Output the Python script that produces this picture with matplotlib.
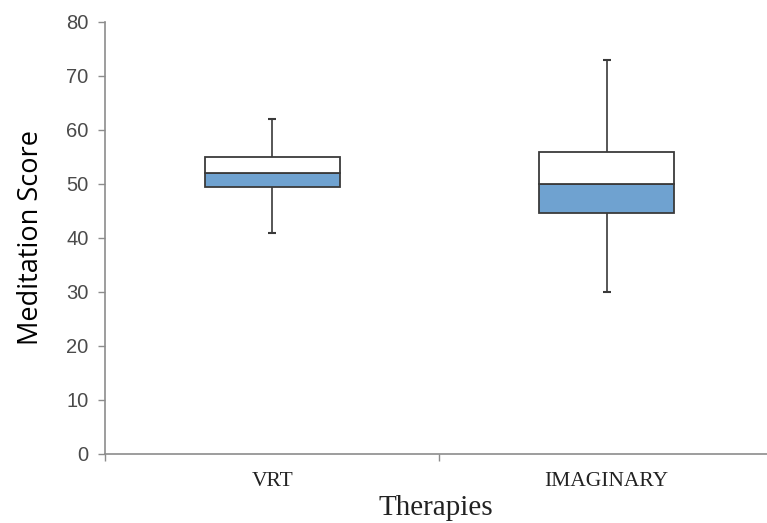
import numpy as np
import matplotlib
matplotlib.use("Agg")
import matplotlib.pyplot as plt

# five-number summaries per therapy
therapies = ["VRT", "IMAGINARY"]
mins = [41, 30]
q1s = [49.5, 44.7]
medians = [52, 50]
q3s = [55, 56]
maxs = [62, 73]

fig = plt.figure(figsize=(7.67, 5.23), dpi=100)
ax = fig.add_axes([0.137, 0.132, 0.863, 0.826])

x = np.arange(len(therapies))
box_w = 0.405
cap_w = 0.012
edge = "#3a3a3a"

# lower half of the box (Q1 -> median) in blue, upper half (median -> Q3) white
ax.bar(x, np.array(medians) - np.array(q1s), bottom=q1s, width=box_w,
       color="#6fa2d0", edgecolor=edge, linewidth=1.3, zorder=3)
ax.bar(x, np.array(q3s) - np.array(medians), bottom=medians, width=box_w,
       color="white", edgecolor=edge, linewidth=1.3, zorder=3)

# whiskers and caps
ax.vlines(x, q3s, maxs, color=edge, linewidth=1.2, zorder=2)
ax.vlines(x, mins, q1s, color=edge, linewidth=1.2, zorder=2)
ax.hlines(maxs, x - cap_w, x + cap_w, color=edge, linewidth=1.5, zorder=2)
ax.hlines(mins, x - cap_w, x + cap_w, color=edge, linewidth=1.5, zorder=2)

ax.set_xlim(-0.5, 1.48)
ax.set_ylim(0, 80)
ax.set_yticks(np.arange(0, 81, 10))
ax.set_xticks([-0.5, 0.5])
ax.set_xticklabels([])
ax.set_xticks(x, minor=True)
ax.set_xticklabels(therapies, minor=True, family="Liberation Serif",
                   fontsize=15.5, color="#222222")
ax.tick_params(axis="x", which="minor", length=0, pad=13)
ax.tick_params(axis="x", which="major", length=5, color="#8c8c8c", width=1)
ax.tick_params(axis="y", length=5, color="#8c8c8c", width=1, pad=7,
               labelsize=14.5, labelcolor="#4a4a4a")
for lbl in ax.get_yticklabels():
    lbl.set_family("Liberation Sans")

for s in ["top", "right"]:
    ax.spines[s].set_visible(False)
ax.spines["left"].set_color("#8c8c8c")
ax.spines["bottom"].set_color("#8c8c8c")
ax.spines["left"].set_linewidth(1.2)
ax.spines["bottom"].set_linewidth(1.2)

ax.set_xlabel("Therapies", family="Liberation Serif", fontsize=21,
              color="#222222", labelpad=3)
ax.set_ylabel("Meditation Score", family="Open Sans", fontsize=19.5,
              color="black", labelpad=15)

fig.savefig("out.png", dpi=100)
